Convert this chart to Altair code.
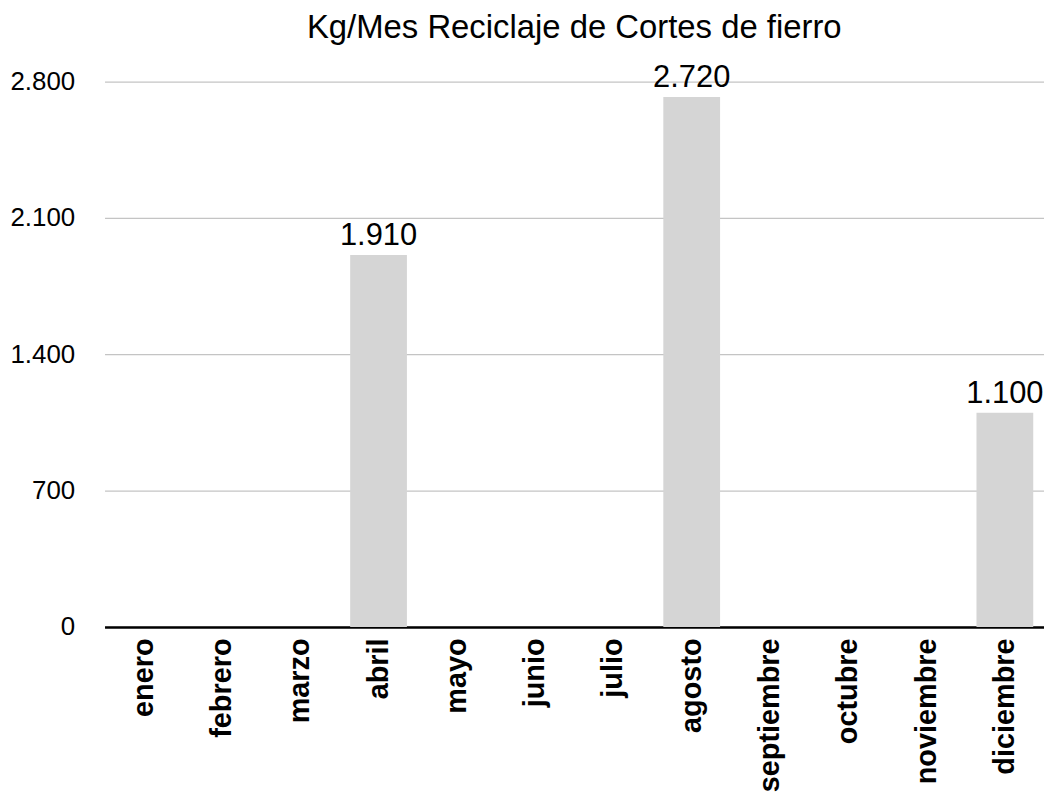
import altair as alt
import pandas as pd

months = ["enero", "febrero", "marzo", "abril", "mayo", "junio", "julio",
          "agosto", "septiembre", "octubre", "noviembre", "diciembre"]
kg = [0, 0, 0, 1910, 0, 0, 0, 2720, 0, 0, 0, 1100]
y_ticks = [0, 700, 1400, 2100, 2800]
title_text = "Kg/Mes Reciclaje de Cortes de fierro"

df = pd.DataFrame({"mes": months, "kg": kg})

FONT = "Liberation Sans"

x = alt.X("mes:N", sort=months, title=None,
          scale=alt.Scale(paddingInner=0.275, paddingOuter=0.1375),
          axis=alt.Axis(labelAngle=-90, labelAlign="right", labelBaseline="middle",
                        labelFont=FONT, labelFontSize=29, labelFontWeight="bold",
                        labelColor="#000000", labelPadding=11, ticks=False,
                        domainColor="#000000", domainWidth=2.5, grid=False))
y = alt.Y("kg:Q", title=None,
          scale=alt.Scale(domain=[0, 2800], nice=False),
          axis=alt.Axis(values=y_ticks, labelFont=FONT, labelFontSize=26,
                        labelColor="#000000", labelPadding=30, ticks=False,
                        domain=False, gridColor="#c4c4c4", gridWidth=1.2,
                        labelExpr="replace(format(datum.value, ','), ',', '.')"))

bars = alt.Chart(df).mark_bar(color="#d5d5d5").encode(x=x, y=y)

text = alt.Chart(df).transform_filter("datum.kg > 0").transform_calculate(
    lbl="replace(format(datum.kg, ','), ',', '.')"
).mark_text(font=FONT, fontSize=31, color="#000000", baseline="alphabetic", dy=-10).encode(
    x=alt.X("mes:N", sort=months), y="kg:Q", text="lbl:N")

chart = alt.layer(bars, text).properties(
    width=944, height=548,
    title=alt.TitleParams(title_text, font=FONT, fontSize=33, fontWeight="normal",
                          color="#000000", anchor="middle", offset=17),
    autosize=alt.AutoSizeParams(type="none"),
    padding={"left": 97, "top": 72, "right": 0, "bottom": 165},
).configure_view(stroke=None)

chart.save("out.html", embed_options={"renderer": "svg", "actions": False})
